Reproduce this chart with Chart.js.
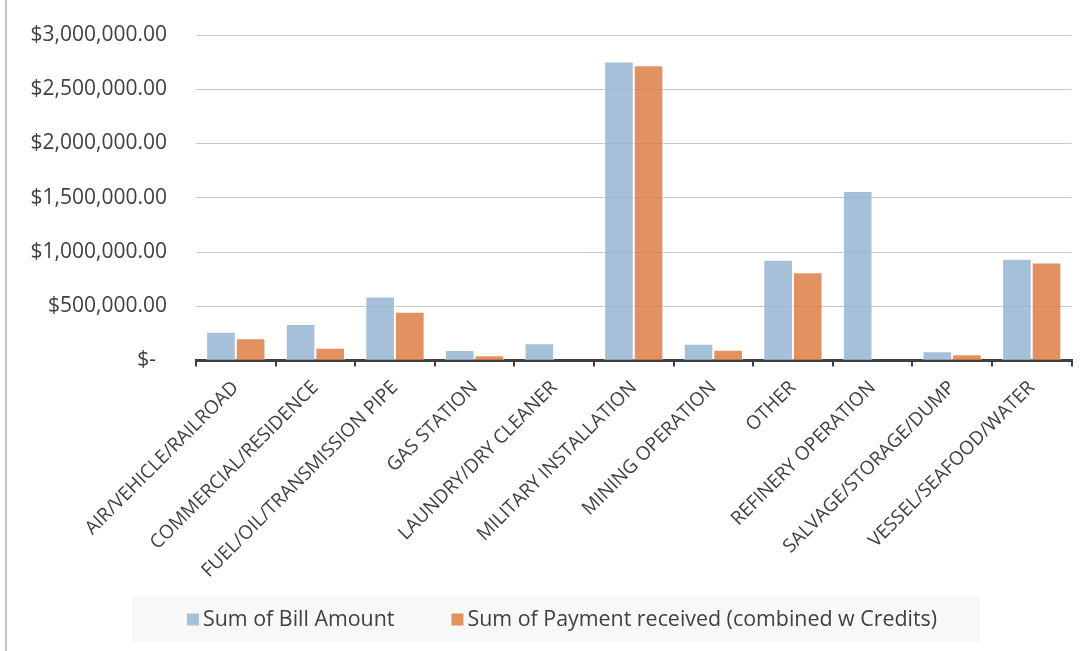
<!DOCTYPE html>
<html>
<head>
<meta charset="utf-8">
<script src="https://cdn.jsdelivr.net/npm/chart.js@4.4.1/dist/chart.umd.min.js"></script>
<style>
  html, body { margin: 0; padding: 0; background: #ffffff; }
  #wrap { position: relative; width: 1089px; height: 651px; overflow: hidden; }
  #frame { position: absolute; left: 5px; top: 0; width: 2px; height: 651px; background: #c4c4c4; }
  canvas { display: block; }
</style>
</head>
<body>
<div id="wrap">
  <canvas id="c" width="1089" height="651"></canvas>
  <div id="frame"></div>
</div>
<script>
const categories = [
  'AIR/VEHICLE/RAILROAD',
  'COMMERCIAL/RESIDENCE',
  'FUEL/OIL/TRANSMISSION PIPE',
  'GAS STATION',
  'LAUNDRY/DRY CLEANER',
  'MILITARY INSTALLATION',
  'MINING OPERATION',
  'OTHER',
  'REFINERY OPERATION',
  'SALVAGE/STORAGE/DUMP',
  'VESSEL/SEAFOOD/WATER'
];
const billAmount = [266000, 337000, 591000, 97000, 159000, 2755000, 155000, 928000, 1562000, 85000, 937000];
const paymentReceived = [205000, 118000, 450000, 48000, 0, 2721000, 100000, 814000, 0, 57000, 903000];
const seriesNames = ['Sum of Bill Amount', 'Sum of Payment received (combined w Credits)'];
const yTickLabels = ['$-', '$500,000.00', '$1,000,000.00', '$1,500,000.00', '$2,000,000.00', '$2,500,000.00', '$3,000,000.00'];

const textColor = '#404040';
const fontFamily = 'Open Sans';

// Legend drawn below the axis in an Excel-style shaded panel
const panelLegend = {
  id: 'panelLegend',
  afterDraw(chart) {
    const ctx = chart.ctx;
    const area = chart.chartArea;
    ctx.save();
    const px = area.left - 64, py = 597, pw = 848, ph = 45;
    ctx.fillStyle = '#f8f8f8';
    ctx.fillRect(px, py, pw, ph);
    ctx.font = '21.4px "' + fontFamily + '"';
    ctx.textBaseline = 'middle';
    ctx.textAlign = 'left';
    const cy = py + 22.5;
    let x = px + 55;
    chart.data.datasets.forEach((ds) => {
      ctx.fillStyle = ds.legendColor;
      ctx.fillRect(x, cy - 6, 12, 12);
      ctx.fillStyle = textColor;
      ctx.fillText(ds.label, x + 16, cy);
      x += 16 + ctx.measureText(ds.label).width + 57;
    });
    ctx.restore();
  }
};

new Chart(document.getElementById('c'), {
  type: 'bar',
  data: {
    labels: categories,
    datasets: [
      {
        label: seriesNames[0],
        data: billAmount,
        backgroundColor: 'rgba(149,181,209,0.85)',
        legendColor: '#a6c1d9',
        borderColor: 'rgba(255,255,255,0.5)',
        borderWidth: 1,
        categoryPercentage: 0.745,
        barPercentage: 1.0
      },
      {
        label: seriesNames[1],
        data: paymentReceived,
        backgroundColor: 'rgba(221,127,68,0.85)',
        legendColor: '#e2925f',
        borderColor: 'rgba(255,255,255,0.5)',
        borderWidth: 1,
        categoryPercentage: 0.745,
        barPercentage: 1.0
      }
    ]
  },
  options: {
    responsive: false,
    animation: false,
    layout: { padding: { top: 35, left: 0, right: 17.5, bottom: 45.5 } },
    plugins: {
      tooltip: { enabled: false },
      legend: { display: false }
    },
    scales: {
      x: {
        z: 1,
        offset: true,
        grid: {
          offset: true,
          drawOnChartArea: false,
          drawTicks: true,
          tickLength: 6,
          color: '#404040',
          lineWidth: 2
        },
        border: { display: true, color: '#404040', width: 3 },
        ticks: {
          color: textColor,
          font: { family: fontFamily, size: 19 },
          minRotation: 45,
          maxRotation: 45,
          autoSkip: false,
          padding: 10
        },
        afterFit(scale) {
          scale.height = 245;
          scale.paddingLeft = 0;
          scale.paddingRight = 0;
        }
      },
      y: {
        min: 0,
        max: 3000000,
        grid: { color: '#c8c8c8', lineWidth: 1, drawTicks: false },
        border: { display: false },
        ticks: {
          stepSize: 500000,
          color: textColor,
          font: { family: fontFamily, size: 21 },
          padding: 29,
          callback: (v, i) => yTickLabels[i] + (i === 0 ? '  ' : '')
        },
        afterFit(scale) {
          scale.width = 196;
          scale.paddingTop = 0;
          scale.paddingBottom = 0;
        }
      }
    }
  },
  plugins: [panelLegend]
});
</script>
</body>
</html>
